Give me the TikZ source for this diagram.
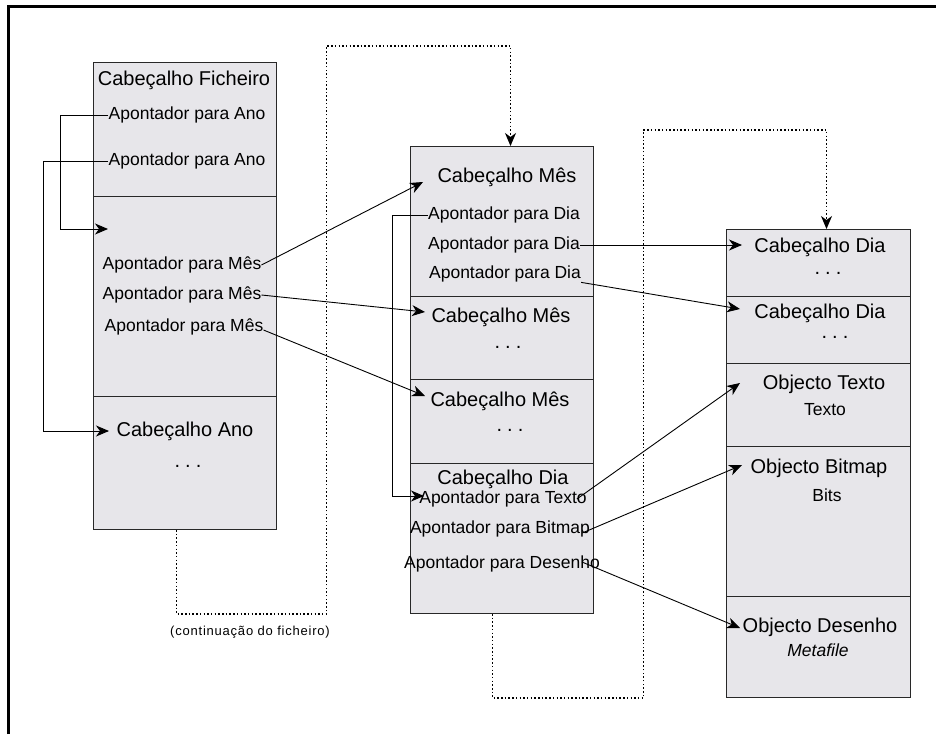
\documentclass[tikz,border=0pt]{standalone}
\usepackage{fontspec}
\setmainfont{Liberation Sans}
\usetikzlibrary{arrows.meta}
\definecolor{boxfill}{RGB}{231,230,234}
\definecolor{boxline}{RGB}{40,40,40}
\begin{document}
\begin{tikzpicture}[x=1pt,y=-1pt,
  sect/.style={draw=boxline, fill=boxfill, line width=1pt, anchor=north west, inner sep=0pt, minimum width=183pt},
  hd/.style={font=\fontsize{20}{24}\selectfont, inner sep=0pt},
  dts/.style={font=\fontsize{20}{24}\selectfont\addfontfeature{LetterSpace=25}, inner sep=0pt},
  ptr/.style={font=\fontsize{17.5}{21}\selectfont, inner sep=0pt},
  link/.style={draw=black, line width=0.9pt, -{Stealth[length=13pt,width=11pt,inset=4pt]}},
  dlink/.style={draw=black, line width=1.3pt, dash pattern=on 1.5pt off 2.2pt, -{Stealth[length=13pt,width=11pt,inset=4pt]}}]
\useasboundingbox (0,0) rectangle (936,734);
\fill[white] (0,0) rectangle (936,734);
\draw[line width=3pt] (8.5,734) -- (8.5,6) -- (936,6);

% left column
\node[sect, minimum height=134pt] (L1) at (93,62) {};
\node[sect, minimum height=200pt] (L2) at (93,196) {};
\node[sect, minimum height=133pt] (L3) at (93,396) {};
% middle column
\node[sect, minimum height=150pt] (M1) at (410,146) {};
\node[sect, minimum height=83pt] (M2) at (410,296) {};
\node[sect, minimum height=84pt] (M3) at (410,379) {};
\node[sect, minimum height=150pt] (M4) at (410,463) {};
% right column
\node[sect, minimum width=184pt, minimum height=67pt] (R1) at (726,229) {};
\node[sect, minimum width=184pt, minimum height=67pt] (R2) at (726,296) {};
\node[sect, minimum width=184pt, minimum height=83pt] (R3) at (726,363) {};
\node[sect, minimum width=184pt, minimum height=150pt] (R4) at (726,446) {};
\node[sect, minimum width=184pt, minimum height=101pt] (R5) at (726,596) {};

% left texts
\node[hd] (lhead) at (184,80) {Cabeçalho Ficheiro};
\node[ptr] (la1) at (187,115) {Apontador para Ano};
\node[ptr] (la2) at (187,161) {Apontador para Ano};
\node[ptr] (lm1) at (182,265) {Apontador para Mês};
\node[ptr] (lm2) at (182,295) {Apontador para Mês};
\node[ptr] (lm3) at (184,327) {Apontador para Mês};
\node[hd] (lano) at (185,431) {Cabeçalho Ano};
\node[dts] (ldots) at (188,466) {...};

% middle texts
\node[hd] (mhead) at (507,177) {Cabeçalho Mês};
\node[ptr] (md1) at (504,215) {Apontador para Dia};
\node[ptr] (md2) at (504,245) {Apontador para Dia};
\node[ptr] (md3) at (505,274) {Apontador para Dia};
\node[hd] (mm2) at (501,317) {Cabeçalho Mês};
\node[dts] (mdots2) at (508,347) {...};
\node[hd] (mm3) at (500,401) {Cabeçalho Mês};
\node[dts] (mdots3) at (510,430) {...};
\node[hd] (mdia) at (503,479) {Cabeçalho Dia};
\node[ptr] (mtx) at (503,499) {Apontador para Texto};
\node[ptr] (mbm) at (500,529) {Apontador para Bitmap};
\node[ptr] (mds) at (502,564) {Apontador para Desenho};

% right texts
\node[hd] (rd1) at (820,247) {Cabeçalho Dia};
\node[dts] (rdots1) at (828,273) {...};
\node[hd] (rd2) at (820,313) {Cabeçalho Dia};
\node[dts] (rdots2) at (835,337) {...};
\node[hd] (rot) at (824,384) {Objecto Texto};
\node[ptr] (rtxt) at (825,410) {Texto};
\node[hd] (rob) at (819,468) {Objecto Bitmap};
\node[ptr] (rbits) at (827,495) {Bits};
\node[hd] (rod) at (820,627) {Objecto Desenho};
\node[ptr, font=\fontsize{17.5}{21}\selectfont\itshape] (rmeta) at (818,650) {Metafile};

\node[font=\fontsize{13}{16}\selectfont\addfontfeature{LetterSpace=6}, inner sep=0pt] (cont) at (250,632) {(continuação do ficheiro)};

% arrow targets
\coordinate (tA1) at (108,229);
\coordinate (tAno) at (109,431);
\coordinate (tM1) at (423,182);
\coordinate (tM2) at (425,312);
\coordinate (tM3) at (425,396);
\coordinate (tTexto) at (424,496);
\coordinate (tD1) at (742,245);
\coordinate (tD2) at (740,309);
\coordinate (tOT) at (740,383);
\coordinate (tOB) at (742,465);
\coordinate (tOD) at (740,628);

% connectors
\draw[link] (la1.west) -- ++(-48,0) |- (tA1);
\draw[link] (la2.west) -- ++(-65,0) |- (tAno);
\draw[link] (lm1.east) -- (tM1);
\draw[link] (lm2.east) -- (tM2);
\draw[link] ([yshift=-3pt]lm3.east) -- (tM3);
\draw[link] (md1.west) -- ++(-35,0) |- (tTexto);
\draw[link] (md2.east) -- (tD1);
\draw[link] (md3.south east) -- (tD2);
\draw[link] ([xshift=-10pt]mtx.east) -- (tOT);
\draw[link] ([xshift=-8pt,yshift=-4pt]mbm.east) -- (tOB);
\draw[link] ([xshift=-18pt,yshift=2pt]mds.east) -- (tOD);

% dotted continuation paths
\draw[dlink] ([xshift=-8.5pt]L3.south) -- ++(0,84) -- ++(150,0) -- ++(0,-568) -- ++(184,0) -- ([xshift=8.5pt]M1.north);
\draw[dlink] ([xshift=-9.5pt]M4.south) -- ++(0,84) -- ++(151,0) -- ++(0,-568) -- ++(183,0) -- ([xshift=8pt]R1.north);
\end{tikzpicture}
\end{document}
